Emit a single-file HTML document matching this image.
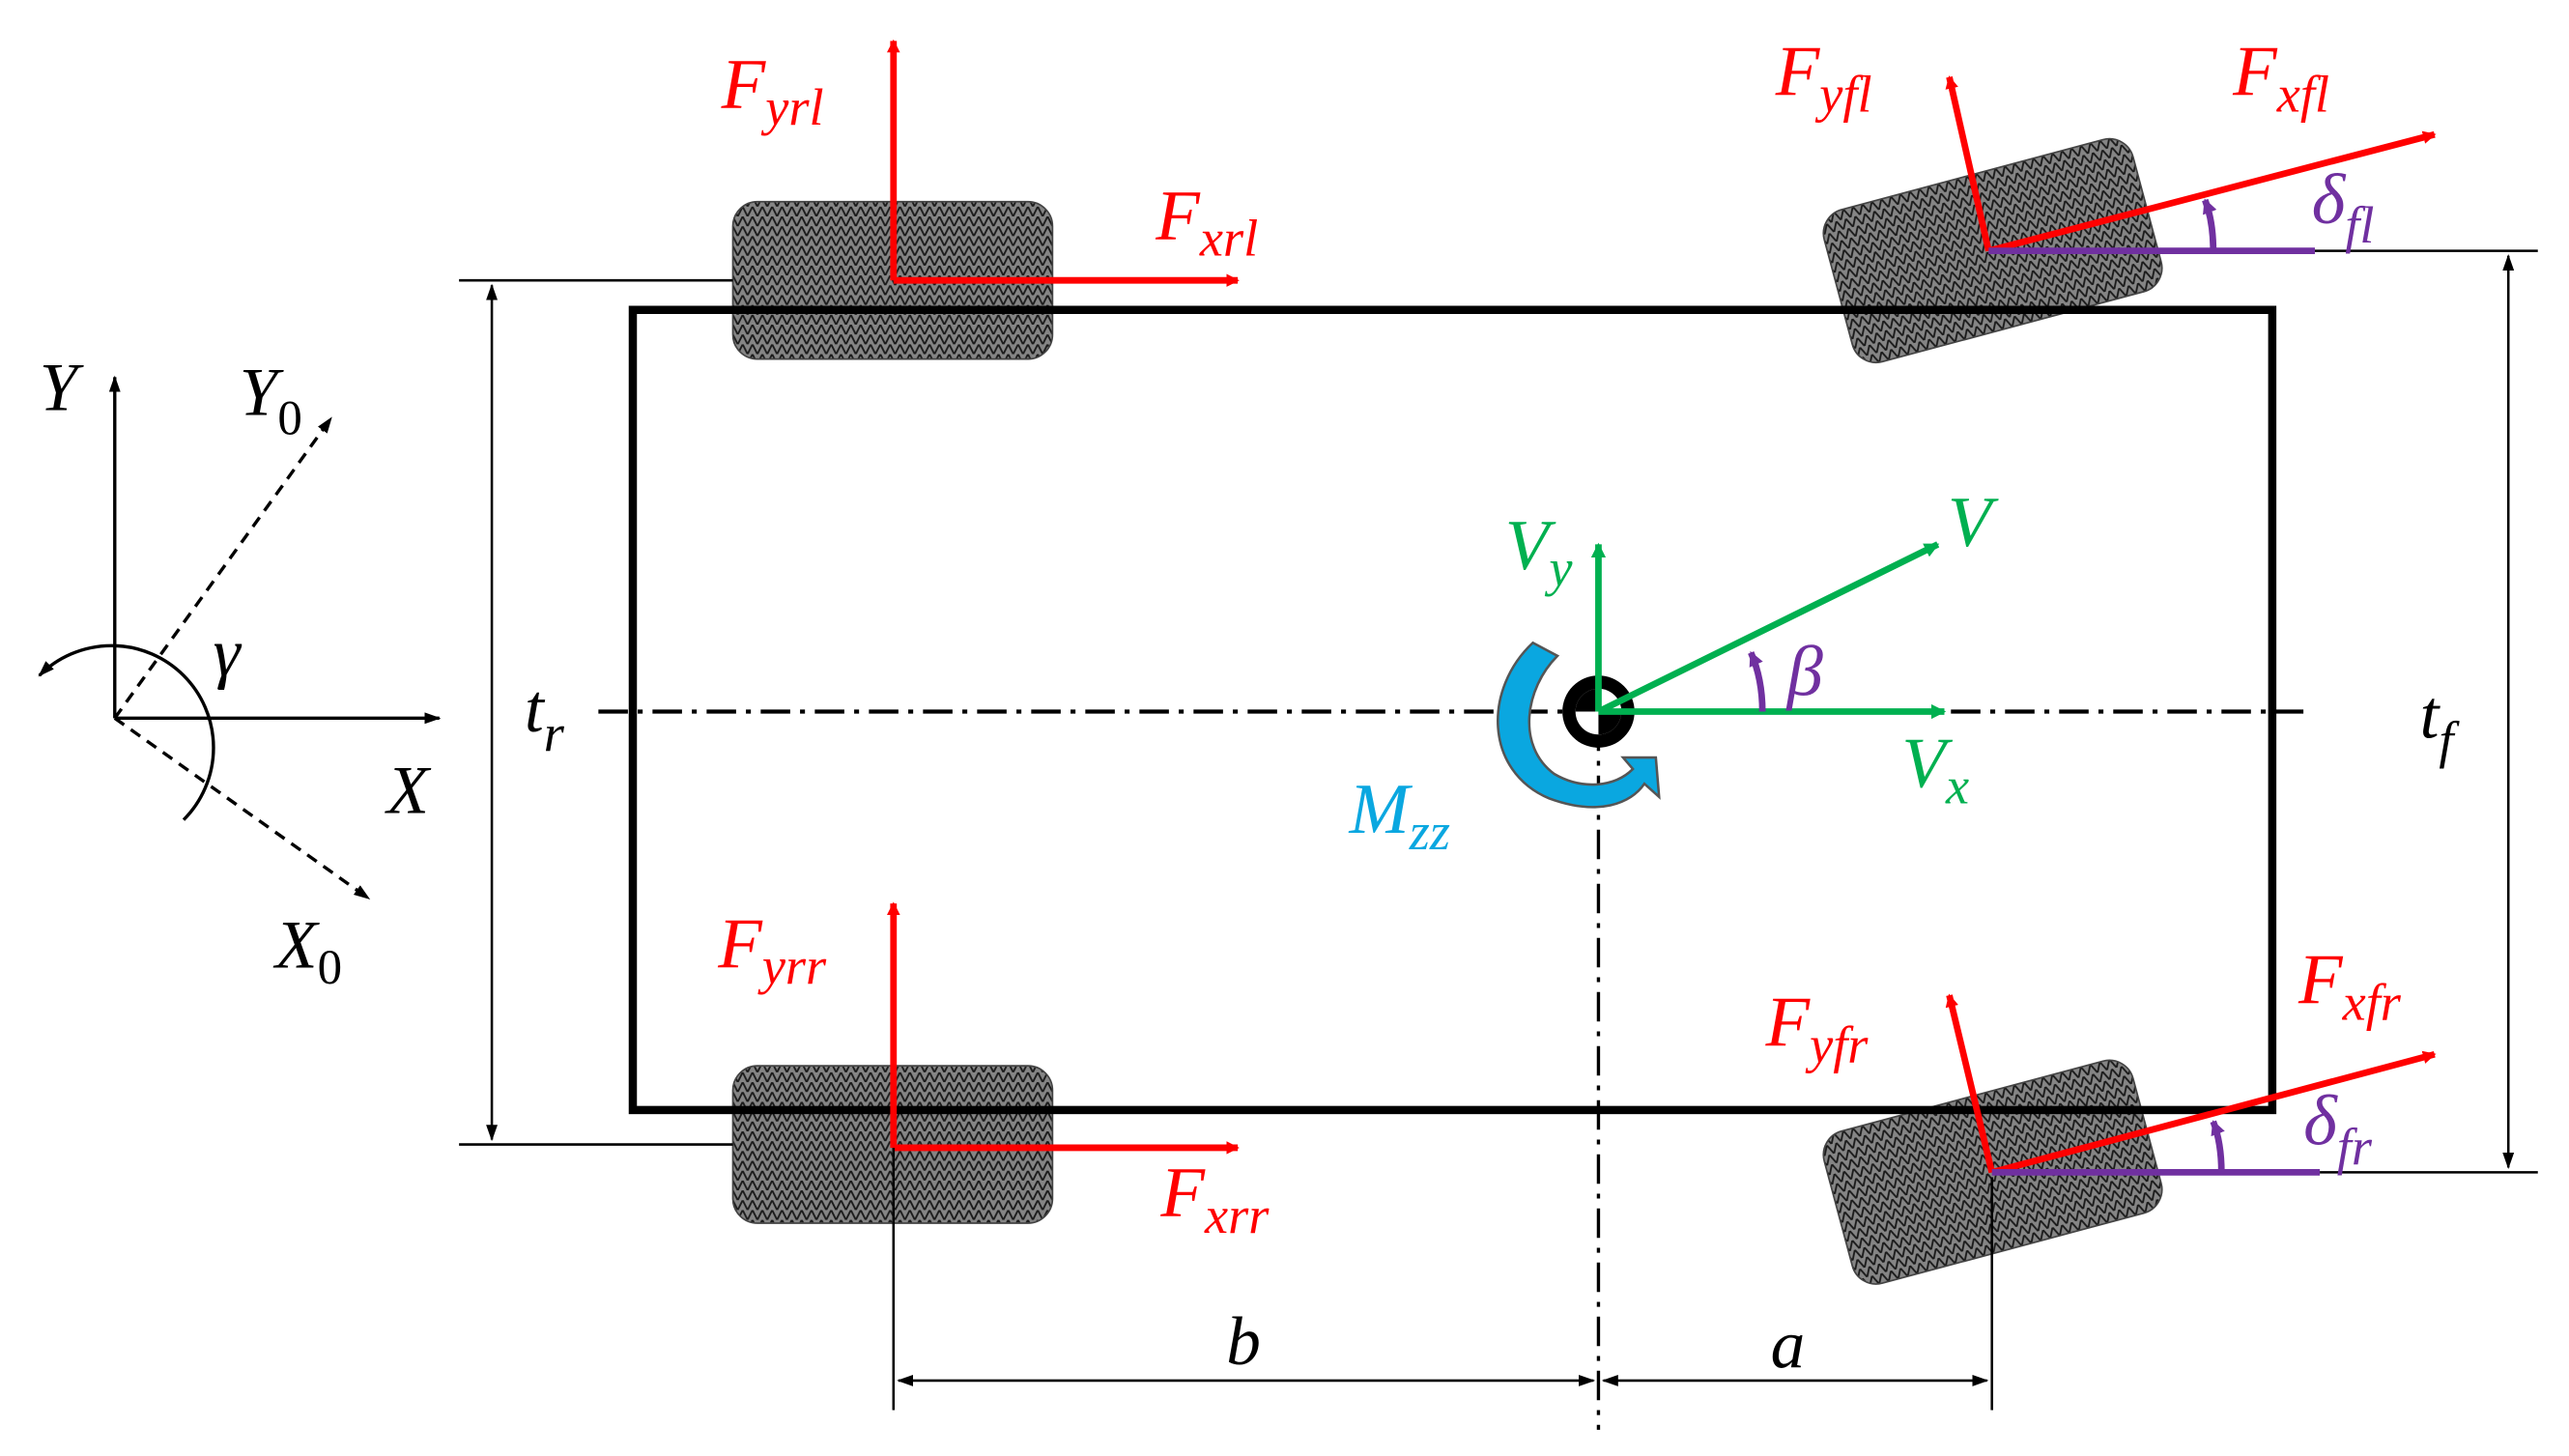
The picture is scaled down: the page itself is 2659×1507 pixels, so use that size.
<!DOCTYPE html>
<html><head><meta charset="utf-8"><style>html,body{margin:0;padding:0;background:#fff}svg{display:block}text{font-family:"Liberation Serif",serif;font-style:italic}</style></head><body>
<svg width="2659" height="1507" viewBox="0 0 1567 888" preserveAspectRatio="none" xmlns="http://www.w3.org/2000/svg">
<defs>
<pattern id="h" width="6" height="6" patternUnits="userSpaceOnUse"><rect width="6" height="6" fill="#858585"/><path d="M0 6L3 0L6 6" stroke="#1a1a1a" stroke-width="1.1" fill="none"/></pattern>
<marker id="ar" markerWidth="8" markerHeight="8" refX="7" refY="4" orient="auto" markerUnits="userSpaceOnUse"><path d="M0 0L8 4L0 8z" fill="#f00"/></marker>
<marker id="ag" markerWidth="9" markerHeight="9" refX="8" refY="4.5" orient="auto" markerUnits="userSpaceOnUse"><path d="M0 0L9 4.5L0 9z" fill="#00b050"/></marker>
<marker id="ap" markerWidth="9" markerHeight="9" refX="8" refY="4.5" orient="auto" markerUnits="userSpaceOnUse"><path d="M0 0L9 4.5L0 9z" fill="#7030a0"/></marker>
<marker id="ak" markerWidth="10" markerHeight="10" refX="9" refY="5" orient="auto" markerUnits="userSpaceOnUse"><path d="M0 1.5L10 5L0 8.5z" fill="#000"/></marker>
<marker id="aks" markerWidth="10" markerHeight="10" refX="1" refY="5" orient="auto" markerUnits="userSpaceOnUse"><path d="M10 1.5L0 5L10 8.5z" fill="#000"/></marker>
</defs>
<rect x="447" y="123" width="195" height="96" rx="15" fill="url(#h)" stroke="#444"/>
<rect x="447" y="650" width="195" height="96" rx="15" fill="url(#h)" stroke="#444"/>
<rect x="-97" y="-48" width="195" height="96" rx="15" fill="url(#h)" stroke="#444" transform="translate(1215,153) rotate(-15)"/>
<rect x="-97" y="-48" width="195" height="96" rx="15" fill="url(#h)" stroke="#444" transform="translate(1215,715) rotate(-15)"/>
<rect x="386" y="189" width="1000" height="488" fill="none" stroke="#000" stroke-width="5"/>
<line x1="365" y1="434" x2="1405" y2="434" stroke="#000" stroke-width="2.5" stroke-dasharray="18,6,3,6"/>
<line x1="975" y1="440" x2="975" y2="872" stroke="#000" stroke-width="2" stroke-dasharray="18,6,3,6"/>
<path d="M935 392 C905 420 905 470 945 487 C975 498 995 490 1003 478 L1012 486 L1010 462 L990 462 L996 469 C985 480 965 482 948 472 C925 455 930 420 950 400 Z" fill="#0aa7e0" stroke="#555" stroke-width="1.5"/>
<circle cx="975" cy="434" r="22" fill="#000"/>
<circle cx="975" cy="434" r="14" fill="#fff"/>
<path d="M975 434 L961 434 A14 14 0 0 1 975 420Z" fill="#000"/>
<path d="M975 434 L989 434 A14 14 0 0 1 975 448Z" fill="#000"/>
<g stroke="#00b050" stroke-width="4" fill="none">
<line x1="975" y1="434" x2="975" y2="332" marker-end="url(#ag)"/>
<line x1="975" y1="434" x2="1182" y2="332" marker-end="url(#ag)"/>
<line x1="975" y1="434" x2="1186" y2="434" marker-end="url(#ag)"/>
</g>
<path d="M1075 434 Q1075 414 1068 398" stroke="#7030a0" stroke-width="4" fill="none" marker-end="url(#ap)"/>
<g stroke="#f00" stroke-width="4" fill="none">
<line x1="545" y1="171" x2="545" y2="25" marker-end="url(#ar)"/>
<line x1="545" y1="171" x2="755" y2="171" marker-end="url(#ar)"/>
<line x1="545" y1="700" x2="545" y2="551" marker-end="url(#ar)"/>
<line x1="545" y1="700" x2="755" y2="700" marker-end="url(#ar)"/>
<line x1="1213" y1="153" x2="1189" y2="47" marker-end="url(#ar)"/>
<line x1="1213" y1="153" x2="1485" y2="82" marker-end="url(#ar)"/>
<line x1="1215" y1="715" x2="1189" y2="607" marker-end="url(#ar)"/>
<line x1="1215" y1="715" x2="1485" y2="643" marker-end="url(#ar)"/>
</g>
<g stroke="#7030a0" stroke-width="4" fill="none">
<line x1="1213" y1="153" x2="1412" y2="153"/>
<line x1="1215" y1="715" x2="1415" y2="715"/>
<path d="M1350 153 Q1350 135 1345 122" marker-end="url(#ap)"/>
<path d="M1355 715 Q1355 697 1350 684" marker-end="url(#ap)"/>
</g>
<g stroke="#000" stroke-width="1.5" fill="none">
<line x1="1412" y1="153" x2="1548" y2="153"/>
<line x1="1415" y1="715" x2="1548" y2="715"/>
<line x1="1530" y1="156" x2="1530" y2="712" marker-start="url(#aks)" marker-end="url(#ak)"/>
<line x1="280" y1="171" x2="447" y2="171"/>
<line x1="280" y1="698" x2="447" y2="698"/>
<line x1="300" y1="174" x2="300" y2="695" marker-start="url(#aks)" marker-end="url(#ak)"/>
<line x1="545" y1="700" x2="545" y2="860"/>
<line x1="1215" y1="718" x2="1215" y2="860"/>
<line x1="548" y1="842" x2="972" y2="842" marker-start="url(#aks)" marker-end="url(#ak)"/>
<line x1="978" y1="842" x2="1212" y2="842" marker-start="url(#aks)" marker-end="url(#ak)"/>
</g>
<g stroke="#000" stroke-width="2" fill="none">
<line x1="70" y1="438" x2="70" y2="230" marker-end="url(#ak)"/>
<line x1="70" y1="438" x2="268" y2="438" marker-end="url(#ak)"/>
<line x1="70" y1="438" x2="202" y2="255" stroke-dasharray="7,5" marker-end="url(#ak)"/>
<line x1="70" y1="438" x2="225" y2="548" stroke-dasharray="7,5" marker-end="url(#ak)"/>
<path d="M112 500 A57 57 0 0 0 24 412" marker-end="url(#ak)"/>
</g>
<g font-size="42">
<text x="24" y="250">Y</text>
<text x="146" y="253">Y<tspan font-size="30" dy="12" font-style="normal">0</tspan></text>
<text x="130" y="412">γ</text>
<text x="236" y="496">X</text>
<text x="168" y="590">X<tspan font-size="30" dy="10" font-style="normal">0</tspan></text>
<text x="320" y="446">t<tspan font-size="32" dy="12">r</tspan></text>
<text x="1476" y="450">t<tspan font-size="32" dy="12">f</tspan></text>
<text x="748" y="832">b</text>
<text x="1080" y="834">a</text>
</g>
<g font-size="44" fill="#f00">
<text x="440" y="66">F<tspan font-size="32" dy="10">yrl</tspan></text>
<text x="705" y="146">F<tspan font-size="32" dy="10">xrl</tspan></text>
<text x="438" y="590">F<tspan font-size="32" dy="10">yrr</tspan></text>
<text x="708" y="742">F<tspan font-size="32" dy="10">xrr</tspan></text>
<text x="1083" y="58">F<tspan font-size="32" dy="10">yfl</tspan></text>
<text x="1362" y="58">F<tspan font-size="32" dy="10">xfl</tspan></text>
<text x="1077" y="638">F<tspan font-size="32" dy="10">yfr</tspan></text>
<text x="1402" y="612">F<tspan font-size="32" dy="10">xfr</tspan></text>
</g>
<g font-size="44" fill="#7030a0">
<text x="1410" y="136">δ<tspan font-size="32" dy="12">fl</tspan></text>
<text x="1405" y="698">δ<tspan font-size="32" dy="12">fr</tspan></text>
<text x="1090" y="424">β</text>
</g>
<g font-size="44" fill="#00b050">
<text x="918" y="347">V<tspan font-size="32" dy="10">y</tspan></text>
<text x="1188" y="333">V</text>
<text x="1160" y="480">V<tspan font-size="32" dy="10">x</tspan></text>
</g>
<text x="823" y="508" font-size="44" fill="#0aa7e0">M<tspan font-size="32" dy="10">zz</tspan></text>
</svg>
</body></html>
